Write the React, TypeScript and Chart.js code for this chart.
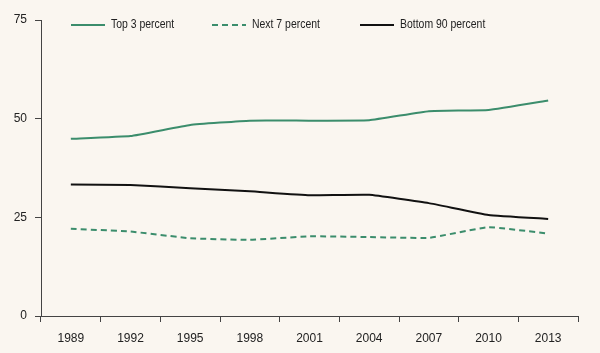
import React, { useEffect, useRef } from "react";
import { Chart, registerables } from "chart.js";

Chart.register(...registerables);

const years = ["1989", "1992", "1995", "1998", "2001", "2004", "2007", "2010", "2013"];
const top3 = [44.9, 45.6, 48.4, 49.5, 49.5, 49.6, 51.9, 52.2, 54.6];
const next7 = [22.1, 21.4, 19.7, 19.3, 20.2, 20.0, 19.8, 22.5, 20.9];
const bottom90 = [33.3, 33.2, 32.4, 31.6, 30.6, 30.7, 28.6, 25.6, 24.6];
const yTicks = [0, 25, 50, 75];

const GREEN = "#3b8d6c";
const BLACK = "#111111";
const AXIS = "#444444";
const TEXT = "#222222";
const BG = "#faf6f0";
const FONT = "'Liberation Sans', Arial, sans-serif";

const legendPlugin = {
  id: "customLegend",
  afterDraw(chart: any) {
    const { ctx, chartArea } = chart;
    const y = chartArea.top + 5;
    const items = [
      { label: "Top 3 percent", color: GREEN, dash: [] as number[], x: chartArea.left + 30 },
      { label: "Next 7 percent", color: GREEN, dash: [6, 4], x: chartArea.left + 171 },
      { label: "Bottom 90 percent", color: BLACK, dash: [] as number[], x: chartArea.left + 319 },
    ];
    ctx.save();
    ctx.font = `12px ${FONT}`;
    ctx.textBaseline = "middle";
    ctx.textAlign = "left";
    for (const it of items) {
      ctx.beginPath();
      ctx.setLineDash(it.dash);
      ctx.strokeStyle = it.color;
      ctx.lineWidth = 2;
      ctx.moveTo(it.x, y);
      ctx.lineTo(it.x + 34, y);
      ctx.stroke();
      ctx.setLineDash([]);
      ctx.fillStyle = TEXT;
      ctx.save();
      ctx.translate(it.x + 40, y);
      ctx.scale(0.87, 1);
      ctx.fillText(it.label, 0, 0);
      ctx.restore();
    }
    ctx.restore();
  },
};

const bgPlugin = {
  id: "bg",
  beforeDraw(chart: any) {
    const { ctx, width, height } = chart;
    ctx.save();
    ctx.fillStyle = BG;
    ctx.fillRect(0, 0, width, height);
    ctx.restore();
  },
};

export default function App() {
  const ref = useRef<HTMLCanvasElement>(null);
  useEffect(() => {
    document.body.style.margin = "0";
    document.body.style.background = BG;
    const chart = new Chart(ref.current!, {
      type: "line",
      data: {
        labels: years,
        datasets: [
          { label: "Top 3 percent", data: top3, borderColor: GREEN, borderWidth: 2, pointRadius: 0, tension: 0.1, fill: false },
          { label: "Next 7 percent", data: next7, borderColor: GREEN, borderWidth: 2, borderDash: [6, 4], pointRadius: 0, tension: 0.1, fill: false },
          { label: "Bottom 90 percent", data: bottom90, borderColor: BLACK, borderWidth: 2, pointRadius: 0, tension: 0.1, fill: false },
        ],
      },
      options: {
        animation: false,
        responsive: false,
        maintainAspectRatio: false,
        layout: { padding: { top: 20, right: 22, left: 0, bottom: 0 } },
        plugins: { legend: { display: false }, tooltip: { enabled: false } },
        scales: {
          x: {
            offset: true,
            grid: { offset: true, drawOnChartArea: false, drawTicks: true, tickLength: 6, color: AXIS },
            border: { color: AXIS, width: 1 },
            ticks: { color: TEXT, font: { family: FONT, size: 12 }, padding: 9, maxRotation: 0 },
            afterFit: (s: any) => { s.height = 37; },
          },
          y: {
            min: 0,
            max: 75,
            afterBuildTicks: (s: any) => { s.ticks = yTicks.map((v) => ({ value: v })); },
            grid: { drawOnChartArea: false, drawTicks: true, tickLength: 6, color: AXIS },
            border: { color: AXIS, width: 1 },
            ticks: { color: TEXT, font: { family: FONT, size: 12 }, padding: 8 },
            afterFit: (s: any) => { s.width = 41; },
          },
        },
      },
      plugins: [bgPlugin, legendPlugin],
    });
    return () => chart.destroy();
  }, []);
  return <canvas ref={ref} width={600} height={353} style={{ display: "block" }} />;
}
